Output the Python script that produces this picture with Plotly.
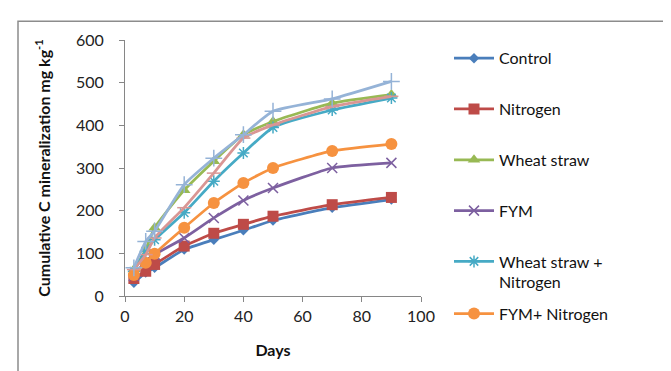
import plotly.graph_objects as go

days = [3, 7, 10, 20, 30, 40, 50, 70, 90]

control = [31, 55, 66, 109, 132, 154, 177, 207, 226]
nitrogen = [41, 58, 74, 117, 147, 168, 187, 214, 231]
wheat_straw = [62, 109, 160, 248, 316, 378, 409, 452, 472]
fym = [47, 82, 97, 136, 183, 224, 253, 300, 312]
ws_nitrogen = [58, 105, 132, 195, 269, 335, 395, 436, 464]
fym_nitrogen = [49, 78, 99, 160, 218, 265, 300, 340, 356]
series7 = [62, 97, 136, 207, 288, 370, 401, 444, 468]
series8 = [66, 128, 152, 261, 323, 378, 433, 462, 503]

FONT = "Lato"
FS = 16

series = [
    ("Control", control, "#4A7EBB", "diamond", 8, "legend"),
    ("Nitrogen", nitrogen, "#BE4B48", "square", 11, "legend"),
    ("Wheat straw", wheat_straw, "#98B954", "triangle-up", 11, "legend"),
    ("FYM", fym, "#7D60A0", "x-thin", 10, "legend"),
    ("Wheat straw +<br>Nitrogen", ws_nitrogen, "#46AAC5", "asterisk", 10, "legend"),
    ("FYM+ Nitrogen", fym_nitrogen, "#F69240", "circle", 12, "legend2"),
    ("Series 7", series7, "#D99694", "line-ew", 10, None),
    ("Series 8", series8, "#95B3D7", "cross-thin", 12, None),
]

fig = go.Figure()
for i, (name, vals, color, sym, size, leg) in enumerate(series):
    open_sym = sym in ("x-thin", "asterisk", "line-ew", "cross-thin")
    fig.add_trace(go.Scatter(
        x=days, y=vals, name=name, mode="lines+markers",
        line=dict(color=color, width=2.75, shape="spline", smoothing=0.5),
        marker=dict(symbol=sym, size=size, color=color,
                    line=dict(color=color, width=1.5 if open_sym else 0)),
        showlegend=leg is not None, legend=leg or "legend", legendgroup=f"g{i}",
    ))

legend_common = dict(
    xanchor="left", yanchor="top",
    traceorder="grouped", tracegroupgap=27, valign="top",
    font=dict(family=FONT, size=FS, color="#111"),
    itemwidth=40, bgcolor="rgba(0,0,0,0)", maxheight=400,
)

fig.update_layout(
    width=671, height=371,
    margin=dict(l=117, r=258, t=32, b=83),
    paper_bgcolor="white", plot_bgcolor="white",
    font=dict(family=FONT, size=FS, color="#222"),
    showlegend=True,
    legend=dict(x=(441 - 117) / 296, y=(288.3 - 33) / 256.6, **legend_common),
    legend2=dict(x=(441 - 117) / 296, y=(288.3 - 289) / 256.6, **legend_common),
    xaxis=dict(
        range=[0, 100], dtick=20, tick0=0,
        showgrid=False, zeroline=False,
        showline=True, linecolor="#868686", linewidth=1,
        ticks="outside", ticklen=5, tickcolor="#868686",
        ticklabelstandoff=1,
        tickfont=dict(family=FONT, size=FS, color="#222"),
        title=dict(text="<b>Days</b>", font=dict(family=FONT, size=FS, color="#111"), standoff=20),
    ),
    yaxis=dict(
        range=[0, 600], dtick=100, tick0=0,
        showgrid=False, zeroline=False,
        showline=True, linecolor="#868686", linewidth=1,
        ticks="outside", ticklen=5, tickcolor="#868686",
        ticklabelstandoff=12,
        tickfont=dict(family=FONT, size=FS, color="#222"),
        title=dict(text="<b>Cumulative C mineralization mg kg<sup>-1</sup></b>",
                   font=dict(family=FONT, size=FS, color="#111"), standoff=21),
    ),
    shapes=[dict(type="rect", xref="paper", yref="paper",
                 x0=(10 - 117) / 296, x1=(700 - 117) / 296,
                 y0=(288.3 - 400) / 256.6, y1=(288.3 - 13) / 256.6,
                 line=dict(color="#8c8c8c", width=1.5), fillcolor="rgba(0,0,0,0)", layer="below")],
)

fig.write_html("out.html")
